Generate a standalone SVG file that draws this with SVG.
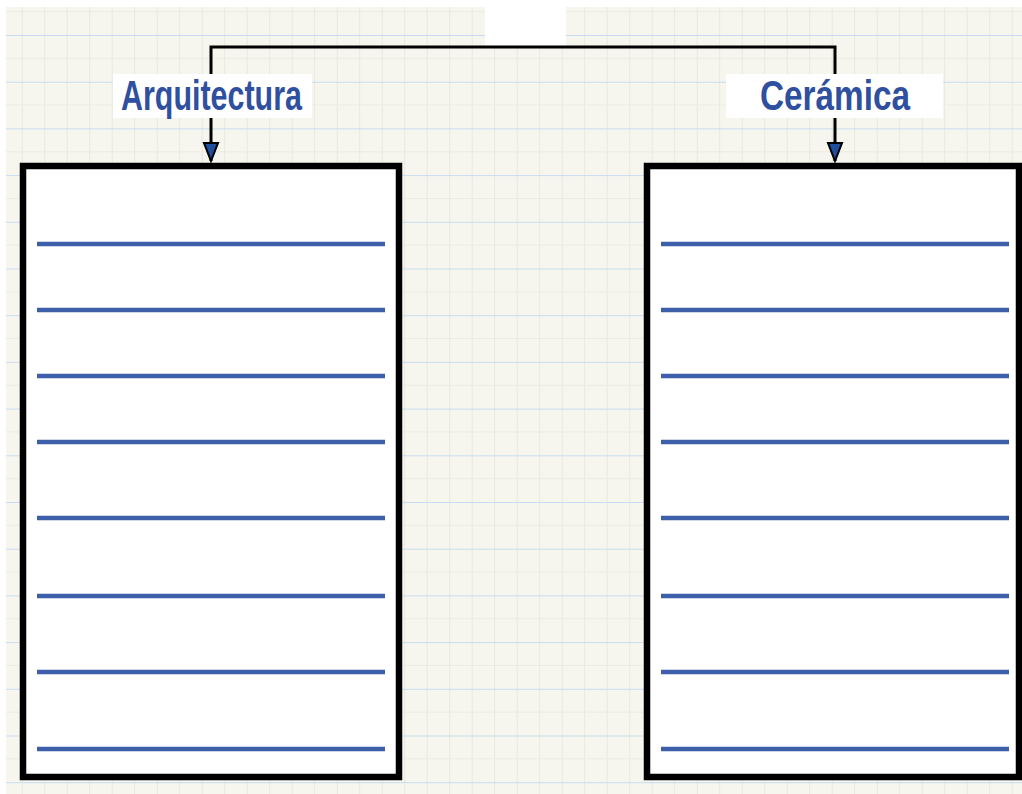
<svg xmlns="http://www.w3.org/2000/svg" width="1022" height="794" viewBox="0 0 1022 794">
<defs>
<pattern id="grid" patternUnits="userSpaceOnUse" x="21.7" y="35" width="22.5" height="46.7">
<rect width="22.5" height="46.7" fill="#f6f6ee"/>
<line x1="0" y1="0" x2="0" y2="46.7" stroke="#e2e2d8" stroke-width="1.3"/>
<line x1="0" y1="23.35" x2="22.5" y2="23.35" stroke="#ebebe2" stroke-width="1"/>
<line x1="0" y1="0" x2="22.5" y2="0" stroke="#c9dcef" stroke-width="2"/>
</pattern>
<marker id="arr" markerUnits="userSpaceOnUse" markerWidth="22" markerHeight="18" refX="20" refY="8" orient="auto" viewBox="0 0 22 16">
<polygon points="2,1 2,15 20,8" fill="#1f4f9c" stroke="#000" stroke-width="2"/>
</marker>
<style>
.box{fill:#fff;stroke:#000;stroke-width:6.5}
.ln{stroke:#3d5ea8;stroke-width:4.5;stroke-linecap:butt}
.lbl{fill:#fff}
.t{font-family:"Liberation Sans",Arial,sans-serif;font-weight:bold;font-size:42px;fill:#2f4f9f}
.conn{fill:none;stroke:#000;stroke-width:3}
</style>
</defs>
<rect width="1022" height="794" fill="#fff"/>
<rect x="6" y="7" width="1016" height="787" fill="url(#grid)"/>
<rect x="485" y="0" width="81" height="46" fill="#fff"/>
<g id="connectors">
<path class="conn" d="M211,118 V47 H835 V118"/>
<path class="conn" d="M211,118 V161" marker-end="url(#arr)"/>
<path class="conn" d="M835,118 V161" marker-end="url(#arr)"/>
</g>
<g id="label-arquitectura">
<rect class="lbl" x="113" y="74" width="199" height="44"/>
<text class="t" x="121" y="110" textLength="181" lengthAdjust="spacingAndGlyphs">Arquitectura</text>
</g>
<g id="label-ceramica">
<rect class="lbl" x="726" y="74" width="217" height="44"/>
<text class="t" x="760" y="110" textLength="150" lengthAdjust="spacingAndGlyphs">Cerámica</text>
</g>
<g id="box-arquitectura">
<rect class="box" x="23" y="166" width="376" height="611"/>
<line class="ln" x1="37" y1="244" x2="385" y2="244"/>
<line class="ln" x1="37" y1="310" x2="385" y2="310"/>
<line class="ln" x1="37" y1="376" x2="385" y2="376"/>
<line class="ln" x1="37" y1="442" x2="385" y2="442"/>
<line class="ln" x1="37" y1="518" x2="385" y2="518"/>
<line class="ln" x1="37" y1="596" x2="385" y2="596"/>
<line class="ln" x1="37" y1="672" x2="385" y2="672"/>
<line class="ln" x1="37" y1="749" x2="385" y2="749"/>
</g>
<g id="box-ceramica">
<rect class="box" x="647" y="166" width="372" height="611"/>
<line class="ln" x1="661" y1="244" x2="1009" y2="244"/>
<line class="ln" x1="661" y1="310" x2="1009" y2="310"/>
<line class="ln" x1="661" y1="376" x2="1009" y2="376"/>
<line class="ln" x1="661" y1="442" x2="1009" y2="442"/>
<line class="ln" x1="661" y1="518" x2="1009" y2="518"/>
<line class="ln" x1="661" y1="596" x2="1009" y2="596"/>
<line class="ln" x1="661" y1="672" x2="1009" y2="672"/>
<line class="ln" x1="661" y1="749" x2="1009" y2="749"/>
</g>
</svg>
